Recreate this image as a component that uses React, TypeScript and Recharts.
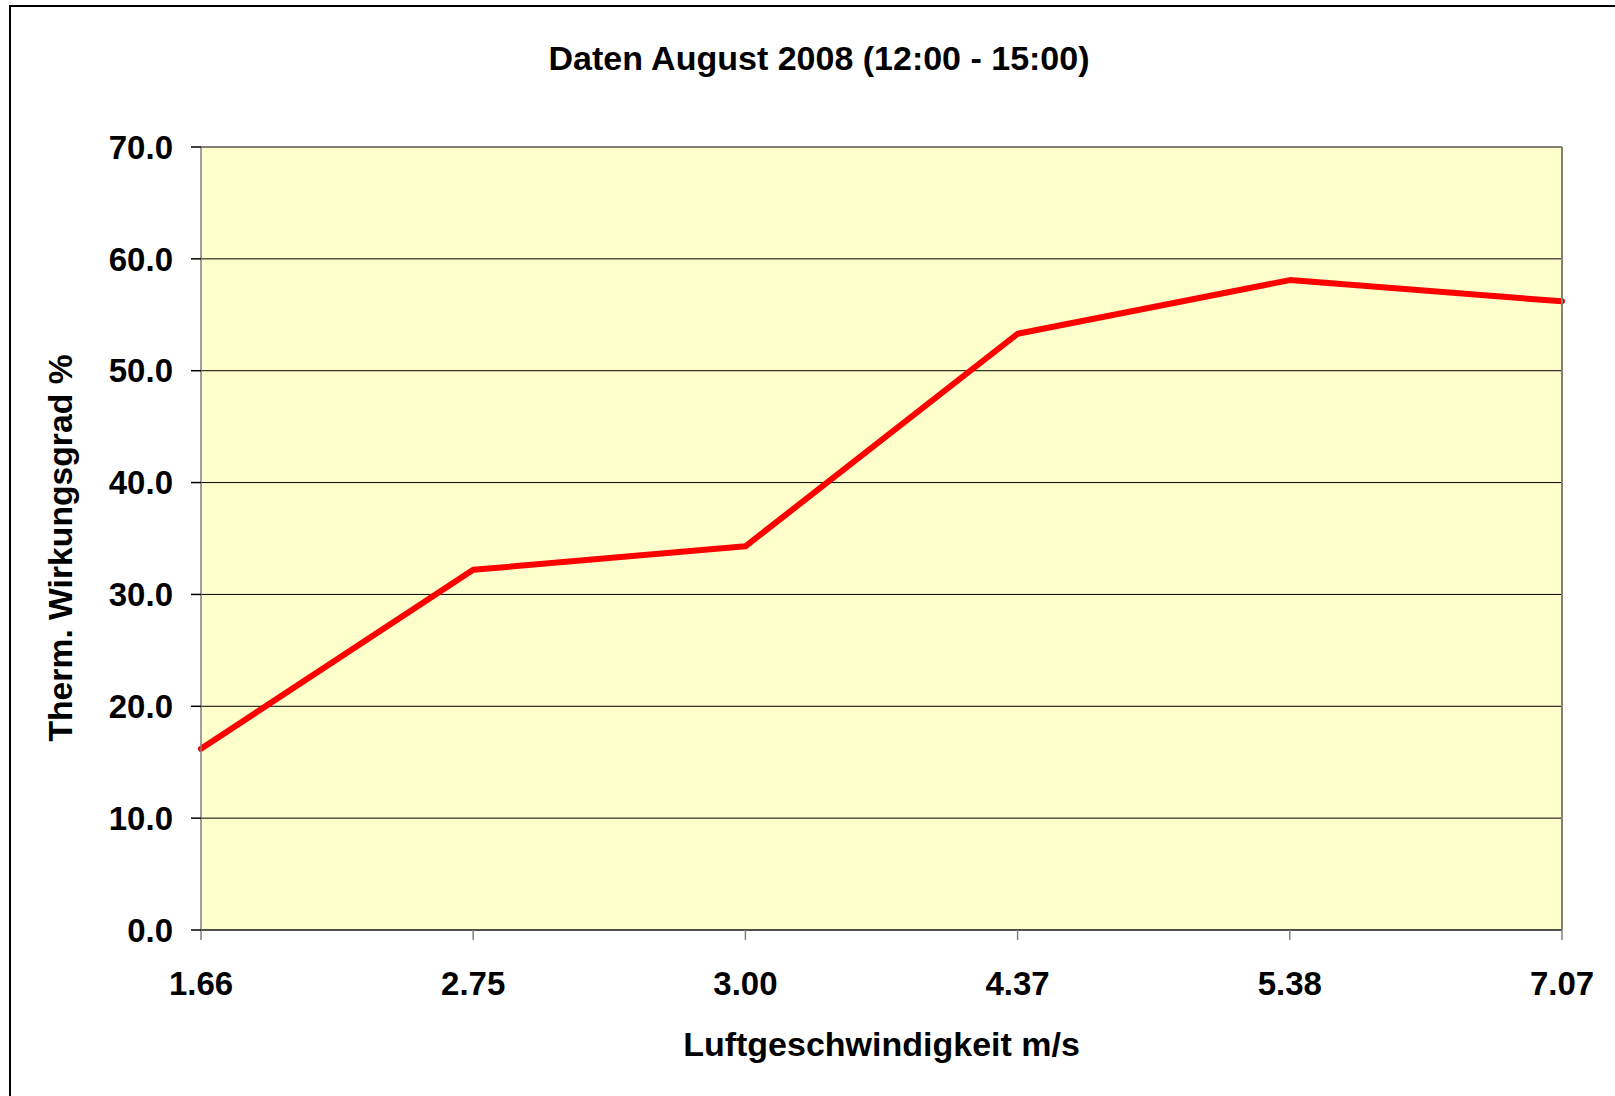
import React from "react";
import { LineChart, Line, XAxis, YAxis, CartesianGrid } from "recharts";

// Luftgeschwindigkeit (m/s) and thermal efficiency (%)
const speeds = ["1.66", "2.75", "3.00", "4.37", "5.38", "7.07"];
const efficiency = [16.2, 32.2, 34.3, 53.3, 58.1, 56.2];
const yTicks = [0, 10, 20, 30, 40, 50, 60, 70];

const data = speeds.map((s, i) => ({ speed: s, eff: efficiency[i] }));

const font = "'Liberation Sans', Arial, sans-serif";

const App: React.FC = () => {
  return (
    <div
      style={{
        position: "absolute",
        left: 0,
        top: 0,
        width: 1615,
        height: 1096,
        overflow: "hidden",
        background: "#fff",
        fontFamily: font,
      }}
    >
      {/* outer chart frame, cut off at right and bottom like the original */}
      <div
        style={{
          position: "absolute",
          left: 9,
          top: 5,
          width: 2000,
          height: 2000,
          borderLeft: "2px solid #000",
          borderTop: "2px solid #000",
        }}
      />
      <div
        style={{
          position: "absolute",
          left: 0,
          top: 41,
          width: 1638,
          textAlign: "center",
          fontSize: 34,
          lineHeight: "34px",
          fontWeight: "bold",
          color: "#000",
        }}
      >
        Daten August 2008 (12:00 - 15:00)
      </div>
      <LineChart
        width={1615}
        height={1096}
        data={data}
        margin={{ top: 147, right: 0, bottom: 0, left: 0 }}
        style={{ position: "absolute", left: 0, top: 0 }}
      >
        <CartesianGrid
          vertical={false}
          stroke="#000"
          fill="#FFFFCC"
          fillOpacity={1}
        />
        <XAxis
          dataKey="speed"
          height={166}
          tickSize={10}
          tickMargin={32}
          axisLine={{ stroke: "#404040", strokeWidth: 1.5 }}
          tickLine={{ stroke: "#808080", strokeWidth: 1.5 }}
          tick={{ fill: "#000", fontSize: 33, fontWeight: "bold", fontFamily: font }}
          label={{
            value: "Luftgeschwindigkeit m/s",
            position: "insideBottom",
            offset: 40,
            fill: "#000",
            fontSize: 34,
            fontWeight: "bold",
            fontFamily: font,
          }}
        />
        <XAxis
          xAxisId="top"
          dataKey="speed"
          orientation="top"
          height={0}
          tick={false}
          tickLine={false}
          axisLine={{ stroke: "#808080", strokeWidth: 1.5 }}
        />
        <YAxis
          width={201}
          domain={[0, 70]}
          ticks={yTicks}
          interval={0}
          tickSize={10}
          tickMargin={18}
          tickFormatter={(v: number) => v.toFixed(1)}
          axisLine={{ stroke: "#808080", strokeWidth: 1.5 }}
          tickLine={{ stroke: "#000", strokeWidth: 1.5 }}
          tick={{ fill: "#000", fontSize: 33, fontWeight: "bold", fontFamily: font }}
          label={{
            content: () => (
              <text
                x={60}
                y={548}
                dy="0.36em"
                transform="rotate(-90 60 548)"
                textAnchor="middle"
                fill="#000"
                fontSize={33.7}
                fontWeight="bold"
                fontFamily={font}
              >
                Therm. Wirkungsgrad %
              </text>
            ),
          }}
        />
        <YAxis
          yAxisId="right"
          orientation="right"
          width={53}
          tick={false}
          tickLine={false}
          axisLine={{ stroke: "#808080", strokeWidth: 2 }}
        />
        <Line
          type="linear"
          dataKey="eff"
          stroke="#FF0000"
          strokeWidth={6}
          strokeLinejoin="round"
          strokeLinecap="round"
          dot={false}
          activeDot={false}
          isAnimationActive={false}
        />
      </LineChart>
    </div>
  );
};

export default App;
